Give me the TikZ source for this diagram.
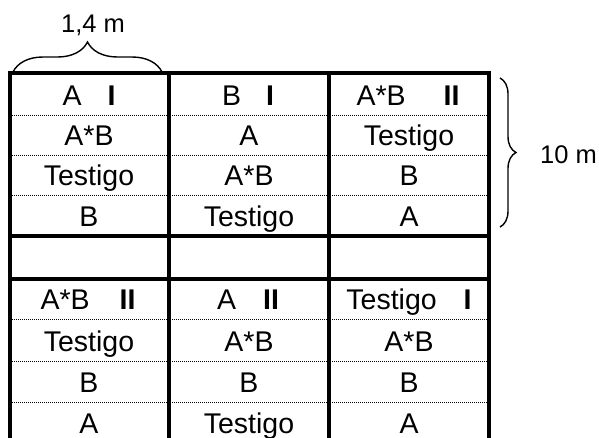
\documentclass[tikz,border=0pt]{standalone}
\usepackage{fontspec}
\setmainfont{Liberation Sans}
\usepackage{tikz}
\usetikzlibrary{decorations.pathreplacing}
\tikzset{celltxt/.style={anchor=base,inner sep=0pt,font=\fontsize{28.5}{32}\selectfont},
  lbltxt/.style={anchor=base,inner sep=0pt,font=\fontsize{25.5}{30}\selectfont},
  thickline/.style={line width=4pt},
  dotline/.style={line width=1pt,dash pattern=on 1pt off 1pt},
  bracket/.style={decorate,line width=1.4pt}}

\begin{document}
\begin{tikzpicture}[x=1pt,y=-1pt]
      \useasboundingbox (0,0) rectangle (599,437);

      % grid
      \draw[thickline] (8,73) -- (491,73);
      \draw[thickline] (8,236) -- (491,236);
      \draw[thickline] (8,279) -- (491,279);
      \draw[thickline] (10,71) -- (10,440);
      \draw[thickline] (169,71) -- (169,440);
      \draw[thickline] (329,71) -- (329,440);
      \draw[thickline] (489,71) -- (489,440);

      \draw[dotline] (12,115) -- (487,115);
      \draw[dotline] (12,155) -- (487,155);
      \draw[dotline] (12,195) -- (487,195);
      \draw[dotline] (12,319) -- (487,319);
      \draw[dotline] (12,361) -- (487,361);
      \draw[dotline] (12,402) -- (487,402);

      % upper block
      \node[celltxt] (a1) at (89,105) {A\hspace{26pt}\textbf{I}};
      \node[celltxt] (a2) at (89,145) {A*B};
      \node[celltxt] (a3) at (89,185) {Testigo};
      \node[celltxt] (a4) at (89,226) {B};

      \node[celltxt] (b1) at (248,105) {B\hspace{25pt}\textbf{I}};
      \node[celltxt] (b2) at (249,145) {A};
      \node[celltxt] (b3) at (249,185) {A*B};
      \node[celltxt] (b4) at (249,226) {Testigo};

      \node[celltxt] (c1) at (408,105) {A*B\hspace{38pt}\textbf{II}};
      \node[celltxt] (c2) at (409,145) {Testigo};
      \node[celltxt] (c3) at (409,185) {B};
      \node[celltxt] (c4) at (409,226) {A};

      % lower block
      \node[celltxt] (d1) at (88,309) {A*B\hspace{30pt}\textbf{II}};
      \node[celltxt] (d2) at (89,351) {Testigo};
      \node[celltxt] (d3) at (89,392) {B};
      \node[celltxt] (d4) at (89,433) {A};

      \node[celltxt] (e1) at (248,309) {A\hspace{27pt}\textbf{II}};
      \node[celltxt] (e2) at (249,351) {A*B};
      \node[celltxt] (e3) at (249,392) {B};
      \node[celltxt] (e4) at (249,433) {Testigo};

      \node[celltxt] (f1) at (409,309) {Testigo\hspace{27pt}\textbf{I}};
      \node[celltxt] (f2) at (409,351) {A*B};
      \node[celltxt] (f3) at (409,392) {B};
      \node[celltxt] (f4) at (409,433) {A};

      % dimensions
      \coordinate (wl) at (13,72);
      \coordinate (wr) at (162,72);
      \draw[bracket,decoration={brace,amplitude=30pt}] (wl) -- (wr);
      \node[lbltxt] (width) at (93,32) {1,4 m};

      \coordinate (lt) at (500,78);
      \coordinate (lb) at (500,227);
      \draw[bracket,decoration={brace,amplitude=16pt}] (lt) -- (lb);
      \node[lbltxt,anchor=base west] (length) at (540,163) {10 m};
    \end{tikzpicture}
\end{document}
